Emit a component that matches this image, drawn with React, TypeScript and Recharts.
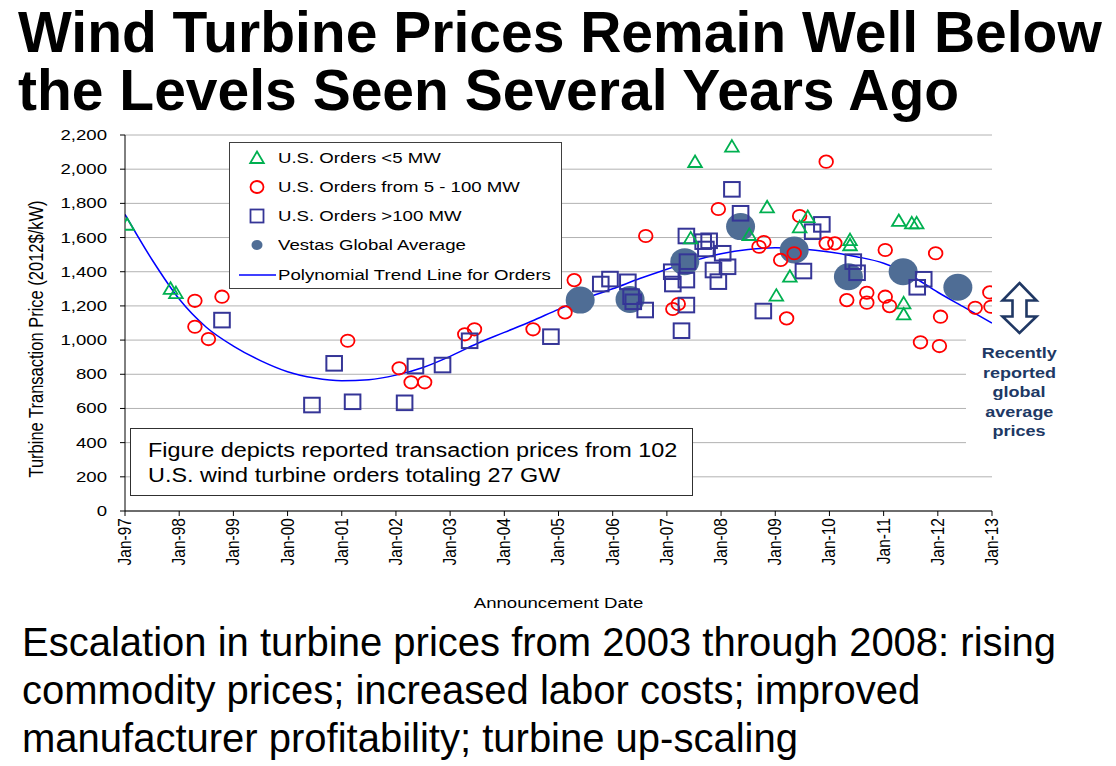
import React from 'react';
import { ComposedChart, Scatter, Line, XAxis, YAxis, CartesianGrid } from 'recharts';

const FONT = 'Arial, "Liberation Sans", Helvetica, sans-serif';
const SX = 1.2; // horizontal stretch of the chart picture's text

const tickYears = [1997, 1998, 1999, 2000, 2001, 2002, 2003, 2004, 2005, 2006, 2007, 2008, 2009, 2010, 2011, 2012, 2013];
const tickLabels = ['Jan-97', 'Jan-98', 'Jan-99', 'Jan-00', 'Jan-01', 'Jan-02', 'Jan-03', 'Jan-04', 'Jan-05', 'Jan-06', 'Jan-07', 'Jan-08', 'Jan-09', 'Jan-10', 'Jan-11', 'Jan-12', 'Jan-13'];
const yTicks = [0, 200, 400, 600, 800, 1000, 1200, 1400, 1600, 1800, 2000, 2200];
const yTickLabels = ['0', '200', '400', '600', '800', '1,000', '1,200', '1,400', '1,600', '1,800', '2,000', '2,200'];

const smallOrders = [
  { x: 1997.04, y: 1675 }, { x: 1997.84, y: 1300 }, { x: 1997.94, y: 1275 },
  { x: 2007.52, y: 2042 }, { x: 2008.2, y: 2132 }, { x: 2007.44, y: 1595 },
  { x: 2008.52, y: 1615 }, { x: 2008.85, y: 1777 }, { x: 2009.6, y: 1720 },
  { x: 2009.45, y: 1660 }, { x: 2009.27, y: 1371 }, { x: 2009.02, y: 1260 },
  { x: 2010.38, y: 1585 }, { x: 2010.38, y: 1555 }, { x: 2011.28, y: 1697 },
  { x: 2011.52, y: 1683 }, { x: 2011.61, y: 1683 }, { x: 2011.37, y: 1215 },
  { x: 2011.37, y: 1150 },
];

const mediumOrders = [
  { x: 1998.29, y: 1230 }, { x: 1998.79, y: 1254 }, { x: 1998.29, y: 1078 },
  { x: 1998.54, y: 1006 }, { x: 2001.11, y: 996 }, { x: 2002.06, y: 835 },
  { x: 2002.28, y: 753 }, { x: 2002.53, y: 753 }, { x: 2003.27, y: 1034 },
  { x: 2003.45, y: 1063 }, { x: 2004.53, y: 1063 }, { x: 2005.12, y: 1162 },
  { x: 2005.29, y: 1351 }, { x: 2006.61, y: 1609 }, { x: 2007.11, y: 1182 },
  { x: 2007.21, y: 1211 }, { x: 2007.95, y: 1767 }, { x: 2008.7, y: 1546 },
  { x: 2008.79, y: 1574 }, { x: 2009.94, y: 2044 }, { x: 2009.45, y: 1726 },
  { x: 2009.94, y: 1566 }, { x: 2010.1, y: 1566 }, { x: 2009.35, y: 1508 },
  { x: 2009.1, y: 1469 }, { x: 2009.21, y: 1127 }, { x: 2010.32, y: 1234 },
  { x: 2010.69, y: 1277 }, { x: 2010.69, y: 1219 }, { x: 2011.03, y: 1254 },
  { x: 2011.11, y: 1199 }, { x: 2011.03, y: 1527 }, { x: 2011.96, y: 1508 },
  { x: 2012.05, y: 1137 }, { x: 2011.68, y: 987 }, { x: 2012.03, y: 965 },
  { x: 2012.69, y: 1189 }, { x: 2012.96, y: 1279 }, { x: 2012.98, y: 1195 },
];

const largeOrders = [
  { x: 1998.79, y: 1117 }, { x: 2000.86, y: 864 }, { x: 2000.45, y: 620 },
  { x: 2001.2, y: 639 }, { x: 2002.16, y: 633 }, { x: 2002.36, y: 848 },
  { x: 2002.86, y: 854 }, { x: 2003.36, y: 996 }, { x: 2004.86, y: 1020 },
  { x: 2005.78, y: 1328 }, { x: 2005.95, y: 1357 }, { x: 2006.28, y: 1341 },
  { x: 2006.34, y: 1254 }, { x: 2006.38, y: 1224 }, { x: 2006.6, y: 1176 },
  { x: 2007.09, y: 1400 }, { x: 2007.11, y: 1328 }, { x: 2007.36, y: 1205 },
  { x: 2007.27, y: 1055 }, { x: 2007.36, y: 1609 }, { x: 2007.38, y: 1459 },
  { x: 2007.36, y: 1351 }, { x: 2007.67, y: 1576 }, { x: 2007.78, y: 1581 },
  { x: 2007.72, y: 1533 }, { x: 2008.03, y: 1508 }, { x: 2008.12, y: 1429 },
  { x: 2007.86, y: 1410 }, { x: 2007.95, y: 1342 }, { x: 2008.2, y: 1882 },
  { x: 2008.36, y: 1742 }, { x: 2008.78, y: 1170 }, { x: 2009.86, y: 1677 },
  { x: 2009.69, y: 1634 }, { x: 2009.52, y: 1404 }, { x: 2010.44, y: 1459 },
  { x: 2010.51, y: 1394 }, { x: 2011.74, y: 1356 }, { x: 2011.62, y: 1309 },
];

const vestasAverage = [
  { x: 2005.4, y: 1234 }, { x: 2006.32, y: 1238 }, { x: 2007.33, y: 1459 },
  { x: 2008.36, y: 1664 }, { x: 2009.35, y: 1527 }, { x: 2010.35, y: 1371 },
  { x: 2011.36, y: 1400 }, { x: 2012.37, y: 1309 },
];

const trendLine = [
  { x: 1997.0, y: 1735 }, { x: 1997.5, y: 1470 }, { x: 1998.0, y: 1240 },
  { x: 1998.5, y: 1075 }, { x: 1999.0, y: 965 }, { x: 1999.5, y: 880 },
  { x: 2000.0, y: 815 }, { x: 2000.5, y: 778 }, { x: 2001.0, y: 762 },
  { x: 2001.5, y: 768 }, { x: 2002.0, y: 795 }, { x: 2002.5, y: 840 },
  { x: 2003.0, y: 905 }, { x: 2003.5, y: 980 }, { x: 2004.0, y: 1045 },
  { x: 2004.5, y: 1110 }, { x: 2005.0, y: 1180 }, { x: 2005.5, y: 1245 },
  { x: 2006.0, y: 1300 }, { x: 2006.5, y: 1360 }, { x: 2007.0, y: 1415 },
  { x: 2007.5, y: 1465 }, { x: 2008.0, y: 1505 }, { x: 2008.5, y: 1530 },
  { x: 2009.0, y: 1540 }, { x: 2009.5, y: 1533 }, { x: 2010.0, y: 1515 },
  { x: 2010.5, y: 1488 }, { x: 2011.0, y: 1450 }, { x: 2011.5, y: 1378 },
  { x: 2012.0, y: 1280 }, { x: 2012.5, y: 1190 }, { x: 2013.0, y: 1100 },
];

const titleLines = ['Wind Turbine Prices Remain Well Below', 'the Levels Seen Several Years Ago'];
const footerLines = [
  'Escalation in turbine prices from 2003 through 2008: rising',
  'commodity prices; increased labor costs; improved',
  'manufacturer profitability; turbine up-scaling',
];
const noteLines = ['Figure depicts reported transaction prices from 102', 'U.S. wind turbine orders totaling 27 GW'];
const annotationLines = ['Recently', 'reported', 'global', 'average', 'prices'];
const legendLabels = ['U.S. Orders <5 MW', 'U.S. Orders from 5 - 100 MW', 'U.S. Orders >100 MW', 'Vestas Global Average', 'Polynomial Trend Line for Orders'];

const GREEN = '#00B050';
const RED = '#FF0000';
const NAVY = '#353597';
const VESTAS = '#4F6D95';
const TREND = '#0000FF';
const ANNOT = '#203864';

const TriangleShape = (p: any) => {
  const { cx, cy } = p;
  if (cx == null || cy == null) return null;
  return <path d={`M${cx},${cy - 6.5} L${cx + 6.8},${cy + 5} L${cx - 6.8},${cy + 5} Z`} fill="none" stroke={GREEN} strokeWidth={1.8} />;
};
const CircleShape = (p: any) => {
  const { cx, cy } = p;
  if (cx == null || cy == null) return null;
  return <ellipse cx={cx} cy={cy} rx={6.8} ry={6.2} fill="none" stroke={RED} strokeWidth={1.8} />;
};
const SquareShape = (p: any) => {
  const { cx, cy } = p;
  if (cx == null || cy == null) return null;
  return <rect x={cx - 7.8} y={cy - 7.3} width={15.6} height={14.6} fill="none" stroke={NAVY} strokeWidth={2} />;
};
const VestasShape = (p: any) => {
  const { cx, cy } = p;
  if (cx == null || cy == null) return null;
  return <ellipse cx={cx} cy={cy} rx={14.5} ry={13.5} fill={VESTAS} />;
};

const XTick = (p: any) => {
  const { x, y, payload } = p;
  const i = tickYears.indexOf(payload.value);
  return (
    <g transform={`translate(${x},${y}) scale(${SX},1) rotate(-90)`}>
      <text x={0} y={0} textAnchor="end" dominantBaseline="central" fontSize={15.5} fill="#000" fontFamily={FONT}>
        {tickLabels[i]}
      </text>
    </g>
  );
};

const YTick = (p: any) => {
  const { x, y, payload } = p;
  const i = yTicks.indexOf(payload.value);
  return (
    <g transform={`translate(${x},${y}) scale(${SX},1)`}>
      <text x={0} y={0} textAnchor="end" dominantBaseline="central" fontSize={15.5} fill="#000" fontFamily={FONT}>
        {yTickLabels[i]}
      </text>
    </g>
  );
};

const XTitle = (p: any) => {
  const vb = p.viewBox || { x: 125, y: 511, width: 867, height: 90 };
  const cx = vb.x + vb.width / 2;
  const cy = vb.y + 92;
  return (
    <g transform={`translate(${cx},${cy}) scale(${SX},1)`}>
      <text x={0} y={0} textAnchor="middle" dominantBaseline="central" fontSize={15.5} fill="#000" fontFamily={FONT}>
        Announcement Date
      </text>
    </g>
  );
};

const YTitle = (p: any) => {
  const vb = p.viewBox || { x: 65, y: 135, width: 60, height: 376 };
  const cx = vb.x - 29;
  const cy = vb.y + vb.height / 2 + 16;
  return (
    <g transform={`translate(${cx},${cy}) scale(${SX},1) rotate(-90)`}>
      <text x={0} y={0} textAnchor="middle" dominantBaseline="central" fontSize={16.5} fill="#000" fontFamily={FONT}>
        Turbine Transaction Price (2012$/kW)
      </text>
    </g>
  );
};

const stretch: React.CSSProperties = { transform: `scaleX(${SX})`, transformOrigin: 'left center', whiteSpace: 'nowrap' };

function LegendIcon({ kind }: { kind: number }) {
  return (
    <svg width={40} height={20} style={{ position: 'absolute', left: 7, top: -10 }}>
      {kind === 0 && <path d="M20,3.5 L26.8,15 L13.2,15 Z" fill="none" stroke={GREEN} strokeWidth={1.8} />}
      {kind === 1 && <ellipse cx={20} cy={10} rx={6.5} ry={6} fill="none" stroke={RED} strokeWidth={1.8} />}
      {kind === 2 && <rect x={13.5} y={3.5} width={13} height={13} fill="none" stroke={NAVY} strokeWidth={1.8} />}
      {kind === 3 && <ellipse cx={20} cy={10} rx={5.5} ry={5} fill={VESTAS} />}
      {kind === 4 && <line x1={2} y1={10} x2={39} y2={10} stroke={TREND} strokeWidth={1.6} />}
    </svg>
  );
}

export default function App() {
  return (
    <div style={{ position: 'absolute', left: 0, top: 0, width: 1116, height: 766, background: '#fff', overflow: 'hidden', fontFamily: FONT }}>
      <div style={{ position: 'absolute', left: 18, top: 3, fontSize: 57, lineHeight: '58px', fontWeight: 'bold', color: '#000', whiteSpace: 'nowrap' }}>
        {titleLines.map((t) => <div key={t}>{t}</div>)}
      </div>

      <div style={{ position: 'absolute', left: 0, top: 0 }}>
        <ComposedChart width={1116} height={766} margin={{ top: 135, right: 124, bottom: 165, left: 65 }}>
          <CartesianGrid horizontal vertical={false} stroke="#b2b2b2" strokeWidth={1} />
          <XAxis
            type="number"
            dataKey="x"
            domain={[1997, 2013]}
            ticks={tickYears}
            interval={0}
            allowDataOverflow
            height={90}
            tickSize={5}
            tickMargin={2}
            stroke="#000"
            tick={<XTick />}
            label={{ content: (p: any) => <XTitle {...p} /> } as any}
          />
          <YAxis
            type="number"
            dataKey="y"
            domain={[0, 2200]}
            ticks={yTicks}
            interval={0}
            allowDataOverflow
            width={60}
            tickSize={5}
            tickMargin={13}
            stroke="#000"
            tick={<YTick />}
            label={{ content: (p: any) => <YTitle {...p} /> } as any}
          />
          <Scatter name="Vestas Global Average" data={vestasAverage} fill={VESTAS} shape={VestasShape} isAnimationActive={false} />
          <Line name="Polynomial Trend Line for Orders" data={trendLine} dataKey="y" type="monotone" stroke={TREND} strokeWidth={1.5} dot={false} activeDot={false} isAnimationActive={false} />
          <Scatter name="U.S. Orders from 5 - 100 MW" data={mediumOrders} fill={RED} shape={CircleShape} isAnimationActive={false} />
          <Scatter name="U.S. Orders >100 MW" data={largeOrders} fill={NAVY} shape={SquareShape} isAnimationActive={false} />
          <Scatter name="U.S. Orders <5 MW" data={smallOrders} fill={GREEN} shape={TriangleShape} isAnimationActive={false} />
        </ComposedChart>
      </div>

      {/* legend */}
      <div style={{ position: 'absolute', left: 229, top: 142, width: 331, height: 145, border: '1px solid #404040', background: '#fff' }}>
        {legendLabels.map((t, i) => (
          <div key={t} style={{ position: 'absolute', left: 0, top: 14.5 + i * 29.3, height: 0 }}>
            <LegendIcon kind={i} />
            <div style={{ position: 'absolute', left: 48, top: -10, fontSize: 15.5, lineHeight: '20px', color: '#000', ...stretch, transformOrigin: 'left center' }}>{t}</div>
          </div>
        ))}
      </div>

      {/* note box */}
      <div style={{ position: 'absolute', left: 130, top: 428, width: 561, height: 66, border: '1.5px solid #303030', background: '#fff' }}>
        <div style={{ position: 'absolute', left: 17, top: 9, fontSize: 19.5, lineHeight: '25px', color: '#000', ...stretch, transformOrigin: 'left top' }}>
          {noteLines.map((t) => <div key={t}>{t}</div>)}
        </div>
      </div>

      {/* annotation */}
      <svg width={60} height={60} style={{ position: 'absolute', left: 990, top: 278 }}>
        <path
          d="M29.5,5 L46.5,22.5 L36.5,22.5 L36.5,38.5 L46.5,38.5 L29.5,55 L12.5,38.5 L22.5,38.5 L22.5,22.5 L12.5,22.5 Z"
          fill="#fff"
          stroke={ANNOT}
          strokeWidth={2.6}
          strokeLinejoin="miter"
        />
      </svg>
      <div style={{ position: 'absolute', left: 966, top: 339, width: 106, height: 106, background: '#fff' }}>
        {annotationLines.map((t, i) => (
          <div key={t} style={{ position: 'absolute', left: 0, width: 106, top: 4 + i * 19.5, textAlign: 'center', fontSize: 15, lineHeight: '19px', fontWeight: 'bold', color: ANNOT }}>
            <span style={{ display: 'inline-block', transform: `scaleX(${SX})` }}>{t}</span>
          </div>
        ))}
      </div>

      {/* footer */}
      <div style={{ position: 'absolute', left: 22, top: 618, fontSize: 40, lineHeight: '48px', color: '#000', whiteSpace: 'nowrap' }}>
        {footerLines.map((t) => <div key={t}>{t}</div>)}
      </div>
    </div>
  );
}
